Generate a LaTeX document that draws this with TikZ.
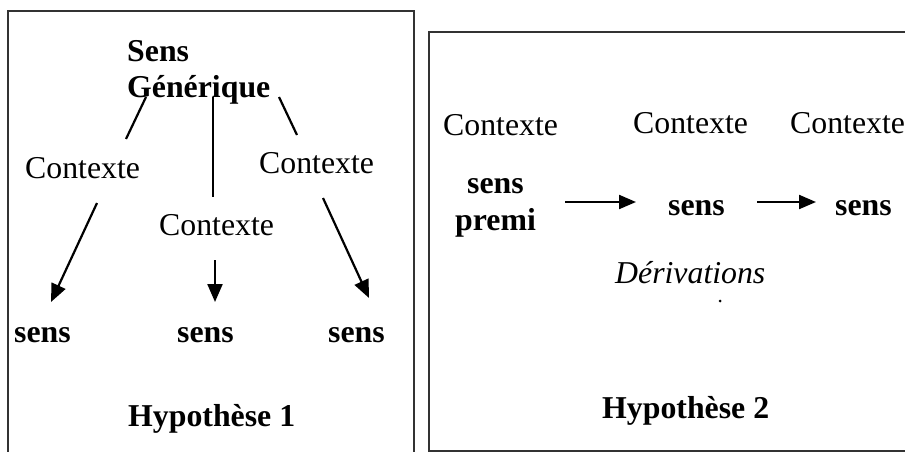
\documentclass[tikz,border=0pt]{standalone}
\usepackage{fontspec}
\setmainfont{Liberation Serif}
\usetikzlibrary{arrows.meta}
\begin{document}
\begin{tikzpicture}[x=1pt,y=-1pt,
  txt/.style={anchor=base west,inner sep=0pt,font=\fontsize{31.8}{36}\selectfont},
  btxt/.style={txt,font=\fontsize{31.8}{36}\selectfont\bfseries},
  itxt/.style={txt,font=\fontsize{31.8}{36}\selectfont\itshape},
  frame/.style={line width=1.3pt,draw=black!80},
  link/.style={line width=2.2pt},
  arr/.style={line width=2.2pt,-{Triangle[length=18pt,width=15pt]}}]
\useasboundingbox (0,0) rectangle (905,452);
\fill[white] (0,0) rectangle (905,452);
% frames
\draw[frame] (8,452) -- (8,11) -- (414,11) -- (414,452);
\draw[frame] (905,32) -- (429,32) -- (429,451) -- (905,451);
% left diagram
\node[btxt] (sens1) at (127,62) {Sens};
\node[btxt] (gen) at (127,97) {Générique};
\node[txt] (cl) at (25,178) {Contexte};
\node[txt] (cr) at (259,173) {Contexte};
\node[txt] (cm) at (159,235) {Contexte};
\node[btxt] (sl) at (14,342) {sens};
\node[btxt] (sm) at (177,342) {sens};
\node[btxt] (sr) at (328,342) {sens};
\node[btxt] (h1) at (128,426) {Hypothèse 1};
\coordinate (g1) at (146,97);
\coordinate (g2) at (213,97);
\coordinate (g3) at (279,97);
\coordinate (c1) at (126,139);
\coordinate (c2) at (213,197);
\coordinate (c3) at (297,135);
\draw[link] (g1) -- (c1);
\draw[link] (g2) -- (c2);
\draw[link] (g3) -- (c3);
\coordinate (a1s) at (97,203);
\coordinate (a1e) at (51,302);
\coordinate (a2s) at (215,260);
\coordinate (a2e) at (215,302);
\coordinate (a3s) at (323,198);
\coordinate (a3e) at (369,298);
\draw[arr] (a1s) -- (a1e);
\draw[arr] (a2s) -- (a2e);
\draw[arr] (a3s) -- (a3e);
% right diagram
\node[txt] (rc1) at (443,135) {Contexte};
\node[txt] (rc2) at (633,133) {Contexte};
\node[txt] (rc3) at (790,133) {Contexte};
\node[btxt] (rs1a) at (467,193) {sens};
\node[btxt] (rs1b) at (455,230) {premi};
\node[btxt] (rs2) at (668,215) {sens};
\node[btxt] (rs3) at (835,215) {sens};
\node[itxt] (der) at (615,283) {Dérivations};
\node[btxt] (h2) at (602,418) {Hypothèse 2};
\coordinate (b1s) at (565,202);
\coordinate (b1e) at (636,202);
\coordinate (b2s) at (757,202);
\coordinate (b2e) at (816,202);
\draw[arr,-{Triangle[length=17pt,width=14pt]}] (b1s) -- (b1e);
\draw[arr,-{Triangle[length=17pt,width=14pt]}] (b2s) -- (b2e);
\coordinate (dot) at (720,301);
\fill (dot) circle (1.5);
\end{tikzpicture}
\end{document}
